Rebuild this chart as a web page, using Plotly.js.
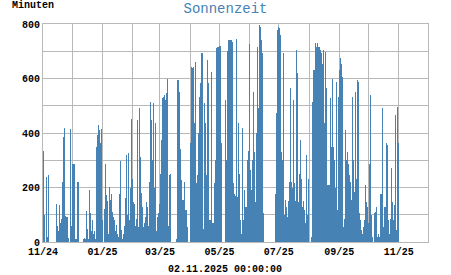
<!DOCTYPE html>
<html><head><meta charset="utf-8">
<script src="https://cdn.plot.ly/plotly-3.0.1.min.js"></script>
<style>html,body{margin:0;padding:0;background:#fff;}#chart{width:451px;height:275px;}</style>
</head><body><div id="chart"></div>
<script>
var startDate = '2024-11-01';
var nov24 = [333,100,0,237,20,245,0,0,0,0,0,0,0,138,60,40,135,70,83,40,220,386,420,95,90,90,15,0,415,60];
var dec24 = [285,285,285,10,10,221,221,0,0,0,0,10,15,10,113,47,10,190,105,40,80,30,40,10,350,392,429,411,362,300,416];
var jan25 = [80,0,120,288,172,150,30,202,155,178,110,92,80,40,62,30,18,178,298,43,10,30,60,160,318,100,328,80,200,453,230];
var feb25 = [147,141,60,86,447,55,120,490,312,180,129,55,70,92,147,129,60,221,515,447,300,509,200,435,40,90,105,141];
var mar25 = [250,374,527,533,539,520,545,600,60,245,250,0,0,0,0,0,10,594,590,594,551,343,227,153,153,221,116,116,55,0,0];
var apr25 = [362,643,640,643,435,662,215,245,400,533,582,692,692,47,511,435,245,668,582,80,80,625,68,68,215,300,705,711,717,717];
var may25 = [720,720,362,0,0,0,521,300,700,741,741,741,741,735,215,178,170,745,165,435,250,80,30,417,80,190,129,129,300,333,728];
var jun25 = [263,190,300,551,330,153,147,400,717,490,796,790,740,692,105,0,0,0,0,0,0,0,0,0,0,0,178,472,778,790];
var jul25 = [784,760,330,300,692,100,153,129,92,150,221,564,221,200,147,521,215,150,705,619,147,250,374,233,129,150,116,68,318,100,233];
var aug25 = [0,0,20,515,631,631,729,717,729,717,717,705,692,655,705,435,698,564,208,208,208,527,350,619,600,350,300,200,588,116,533];
var sep25 = [631,674,655,606,55,86,411,300,330,288,245,221,153,533,300,184,551,233,594,588,105,80,43,30,55,80,208,147,129,68];
var oct25 = [288,105,539,98,18,0,105,110,129,18,30,18,178,178,490,55,129,129,362,357,80,30,86,270,147,80,135,465,43,496,362];

var xTickVals = ['2024-11-01','2024-12-01','2025-01-01','2025-02-01','2025-03-01','2025-04-01','2025-05-01','2025-06-01','2025-07-01','2025-08-01','2025-09-01','2025-10-01','2025-11-01'];
var xTickText = ['11/24','','01/25','','03/25','','05/25','','07/25','','09/25','','11/25'];
var yTickVals = [0,100,200,300,400,500,600,700,800];
var yTickText = ['0','','200','','400','','600','','800'];
var titleText = 'Sonnenzeit';
var unitText = 'Minuten';
var stampText = '02.11.2025 00:00:00';

var values = [].concat(nov24,dec24,jan25,feb25,mar25,apr25,may25,jun25,jul25,aug25,sep25,oct25);
var dates = [];
var t0 = Date.UTC(2024,10,1);
for (var i=0;i<values.length;i++){
  var d = new Date(t0 + i*86400000);
  dates.push(d.toISOString().slice(0,10));
}

var mono = 'Liberation Mono, Courier New, monospace';
var gridc = '#b8b8b8';

var trace = {
  type:'bar', x:dates, y:values,
  xperiod:86400000, xperiodalignment:'middle',
  marker:{color:'#4682b4', line:{width:0}},
  hoverinfo:'skip'
};

var layout = {
  width:451, height:275,
  margin:{l:43, r:23, t:24, b:33, pad:0},
  paper_bgcolor:'#fff', plot_bgcolor:'#fff',
  bargap:0,
  showlegend:false,
  title:{text:titleText, font:{family:mono, size:14, color:'#4682b4'}, x:0.5, xref:'container', xanchor:'center', y:0.972, yref:'container', yanchor:'middle'},
  xaxis:{type:'date', range:['2024-11-01','2025-12-01'], tickmode:'array', tickvals:xTickVals, ticktext:xTickText,
    showgrid:true, gridcolor:gridc, gridwidth:1, ticks:'', showline:true, mirror:true, linecolor:gridc, linewidth:1,
    zeroline:false, tickfont:{family:mono, size:10, color:'#000', weight:'bold'}, fixedrange:true},
  yaxis:{range:[0,800], tickmode:'array', tickvals:yTickVals, ticktext:yTickText,
    showgrid:true, gridcolor:gridc, gridwidth:1, ticks:'', showline:true, mirror:true, linecolor:gridc, linewidth:1,
    zeroline:false, tickfont:{family:mono, size:10, color:'#000', weight:'bold'}, fixedrange:true},
  annotations:[
    {text:unitText, xref:'paper', yref:'paper', x:-0.0857, y:1.087, xanchor:'left', yanchor:'middle', showarrow:false,
     font:{family:mono, size:10, color:'#000', weight:'bold'}},
    {text:stampText, xref:'paper', yref:'paper', x:0.473, y:-0.125, xanchor:'center', yanchor:'middle', showarrow:false, borderpad:0,
     font:{family:mono, size:10, color:'#000', weight:'bold'}}
  ]
};

Plotly.newPlot('chart',[trace],layout,{displayModeBar:false, staticPlot:true});
</script>
</body></html>
